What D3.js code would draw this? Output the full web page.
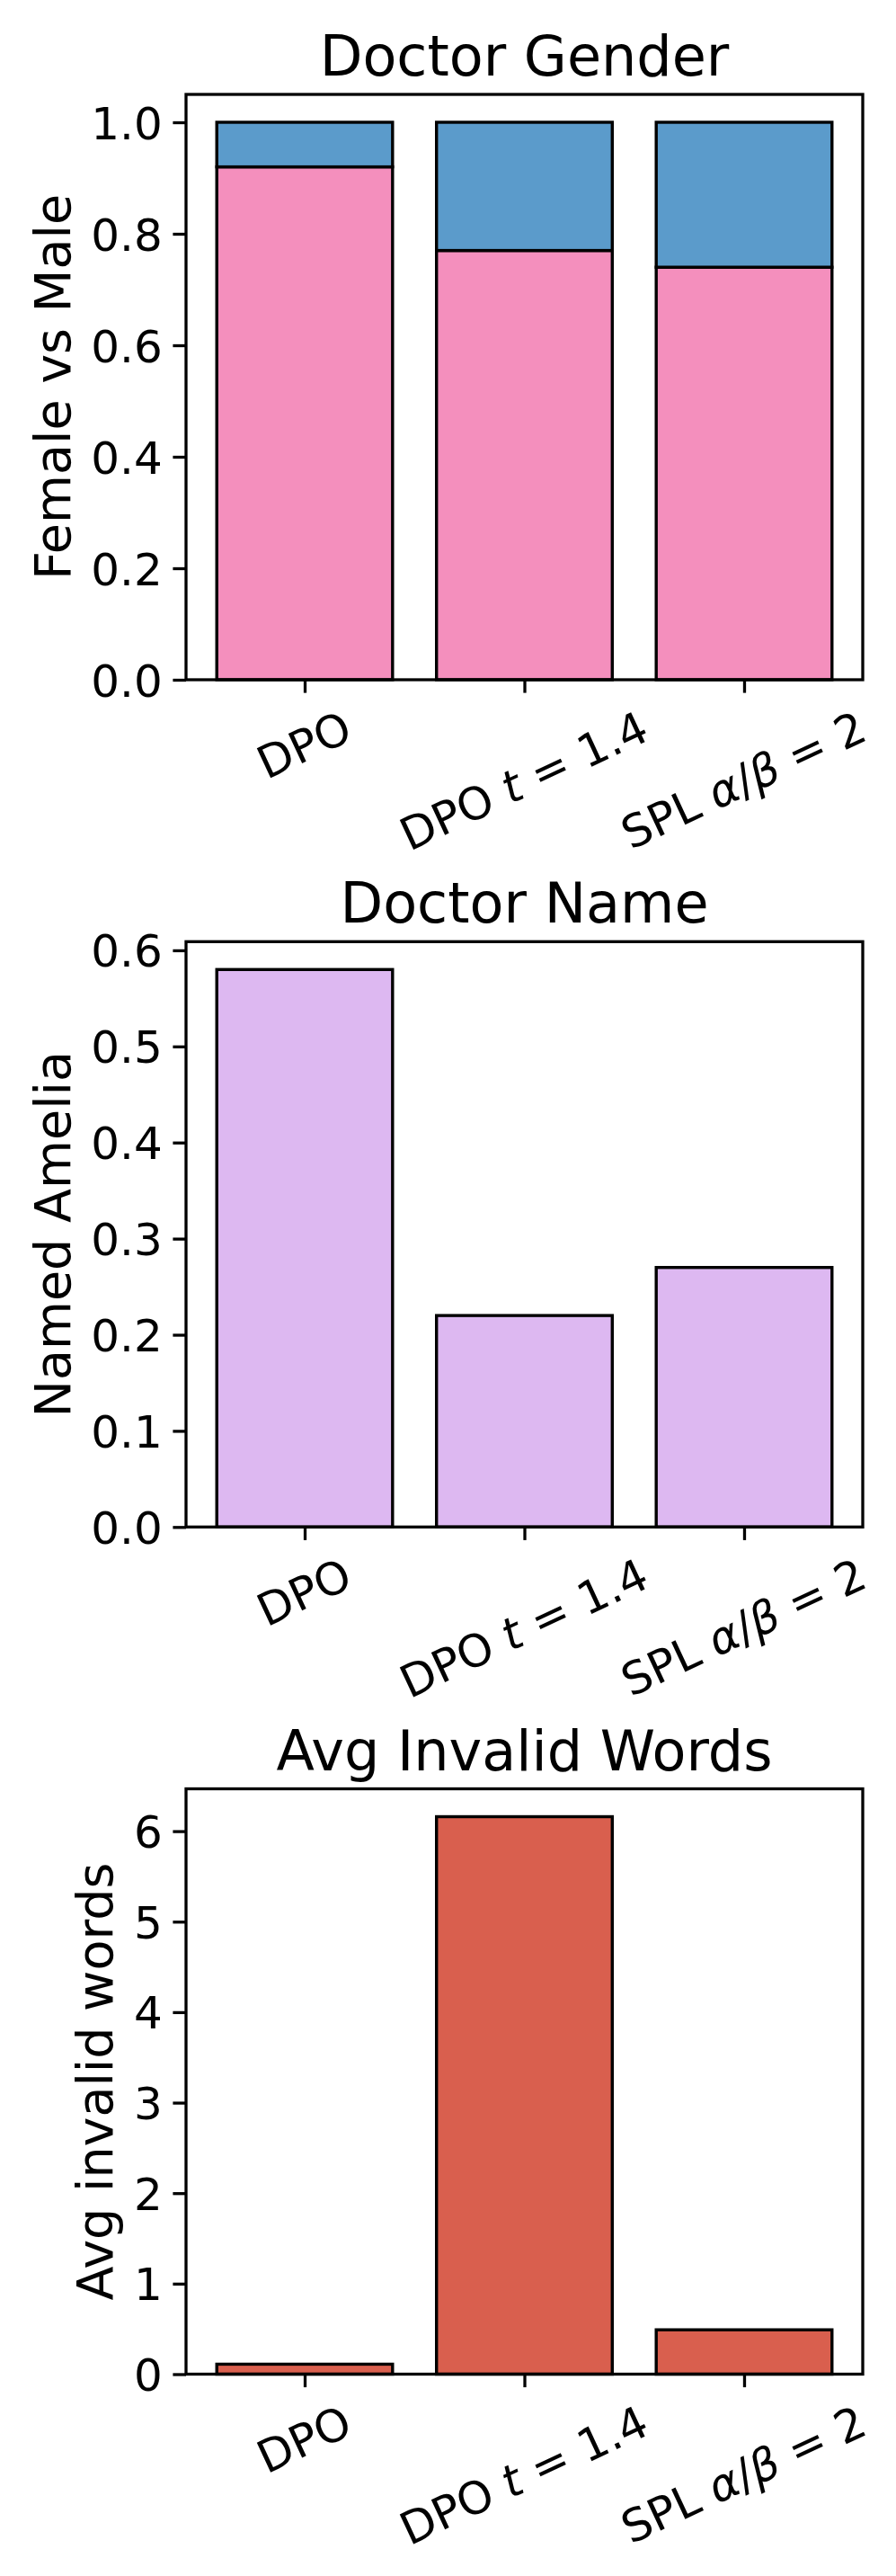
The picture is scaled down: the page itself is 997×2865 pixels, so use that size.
<!DOCTYPE html>
<html>
<head>
<meta charset="utf-8">
<script src="https://cdn.jsdelivr.net/npm/d3@7"></script>
<style>
  html, body { margin: 0; padding: 0; background: #fff; }
  svg { display: block; font-family: "DejaVu Sans", sans-serif; }
</style>
</head>
<body>
<svg id="chart" width="997" height="2865"></svg>
<script>
// ---------------- data ----------------
const categories = ["DPO", "DPO t = 1.4", "SPL α/β = 2"];
const italicChars = ["t", "α", "β"];

const femaleShare = [0.92, 0.77, 0.74];
const maleShare = [0.08, 0.23, 0.26];

const namedAmelia = [0.58, 0.22, 0.27];

const avgInvalidWords = [0.11, 6.16, 0.49];

const titles = ["Doctor Gender", "Doctor Name", "Avg Invalid Words"];
const yLabels = ["Female vs Male", "Named Amelia", "Avg invalid words"];

const ticksGender = [0, 0.2, 0.4, 0.6, 0.8, 1.0];
const ticksName = [0, 0.1, 0.2, 0.3, 0.4, 0.5, 0.6];
const ticksInvalid = [0, 1, 2, 3, 4, 5, 6];

const colors = { female: "#f48fbd", male: "#5b9bcb", amelia: "#ddb8f1", invalid: "#d95f4e" };

// ---------------- layout ----------------
const svg = d3.select("#chart");
const AX_LEFT = 207, AX_RIGHT = 960, AX_H = 651;
const tops = [105, 1047.3, 1989.5];
const TICK_FS = 50, TITLE_FS = 62, LABEL_FS = 55.5;
const TICK_LEN = 14.6, TICK_PAD = 14.6;
const ROT = 25;

function renderLabel(sel, str) {
  let buf = "", curItal = null;
  const flush = () => {
    if (buf.length) {
      sel.append("tspan").attr("font-style", curItal ? "italic" : "normal").text(buf);
    }
    buf = "";
  };
  for (const ch of str) {
    const it = italicChars.includes(ch);
    if (curItal !== null && it !== curItal) flush();
    curItal = it;
    buf += ch;
  }
  flush();
}

function panel(idx, series, yTicks, fmt) {
  const top = tops[idx];
  const g = svg.append("g").attr("transform", `translate(0,${top})`);
  const x = d3.scaleLinear().domain([-0.54, categories.length - 1 + 0.54]).range([AX_LEFT, AX_RIGHT]);
  const maxV = d3.max(categories.map((c, i) => d3.sum(series, s => s.values[i])));
  const y = d3.scaleLinear().domain([0, maxV * 1.05]).range([AX_H, 0]);
  const bw = x(0.4) - x(-0.4);

  // bars (stacked)
  categories.forEach((c, i) => {
    let base = 0;
    series.forEach(s => {
      const v = s.values[i];
      g.append("rect")
        .attr("x", x(i) - bw / 2)
        .attr("width", bw)
        .attr("y", y(base + v))
        .attr("height", y(base) - y(base + v))
        .attr("fill", s.color)
        .attr("stroke", "#000")
        .attr("stroke-width", 3.4);
      base += v;
    });
  });

  // frame
  g.append("rect")
    .attr("x", AX_LEFT).attr("y", 0)
    .attr("width", AX_RIGHT - AX_LEFT).attr("height", AX_H)
    .attr("fill", "none").attr("stroke", "#000").attr("stroke-width", 3.3);

  // y axis
  const yAxis = d3.axisLeft(y).tickValues(yTicks).tickFormat(fmt).tickSize(TICK_LEN).tickPadding(TICK_PAD - 3);
  const ya = g.append("g").attr("transform", `translate(${AX_LEFT},0)`).call(yAxis);
  ya.select(".domain").remove();
  ya.selectAll(".tick line").attr("stroke", "#000").attr("stroke-width", 3.3);
  ya.selectAll(".tick text")
    .attr("font-size", TICK_FS).attr("font-family", "DejaVu Sans").attr("fill", "#000")
    .attr("dy", "0.36em");

  let minLeft = Infinity;
  ya.selectAll(".tick text").each(function () {
    const bb = this.getBBox();
    minLeft = Math.min(minLeft, AX_LEFT + bb.x);
  });

  // y label
  g.append("text")
    .attr("transform", `translate(${minLeft - 23.5},${AX_H / 2}) rotate(-90)`)
    .attr("text-anchor", "middle")
    .attr("font-size", LABEL_FS)
    .attr("fill", "#000")
    .text(yLabels[idx]);

  // x ticks
  const xAxis = d3.axisBottom(x).tickValues(d3.range(categories.length)).tickFormat("").tickSize(TICK_LEN);
  const xa = g.append("g").attr("transform", `translate(0,${AX_H})`).call(xAxis);
  xa.select(".domain").remove();
  xa.selectAll(".tick line").attr("stroke", "#000").attr("stroke-width", 3.3);

  // rotated x tick labels, bbox centered on tick
  const th = Math.PI * ROT / 180;
  categories.forEach((c, i) => {
    const t = g.append("text")
      .attr("font-size", TICK_FS)
      .attr("fill", "#000")
      .attr("text-anchor", "middle");
    renderLabel(t, c);
    const w = t.node().getComputedTextLength();
    const h = 0.97 * TICK_FS;
    const bbH = w * Math.sin(th) + h * Math.cos(th);
    const cy = AX_H + TICK_LEN + TICK_PAD + bbH / 2;
    const cx = x(i);
    t.attr("dy", "0.32em")
      .attr("transform", `translate(${cx},${cy}) rotate(${-ROT})`);
  });

  // title
  g.append("text")
    .attr("x", (AX_LEFT + AX_RIGHT) / 2)
    .attr("y", -21)
    .attr("text-anchor", "middle")
    .attr("font-size", TITLE_FS)
    .attr("fill", "#000")
    .text(titles[idx]);
}

panel(0, [
  { values: femaleShare, color: colors.female },
  { values: maleShare, color: colors.male }
], ticksGender, d3.format(".1f"));

panel(1, [
  { values: namedAmelia, color: colors.amelia }
], ticksName, d3.format(".1f"));

panel(2, [
  { values: avgInvalidWords, color: colors.invalid }
], ticksInvalid, d3.format("d"));
</script>
</body>
</html>
